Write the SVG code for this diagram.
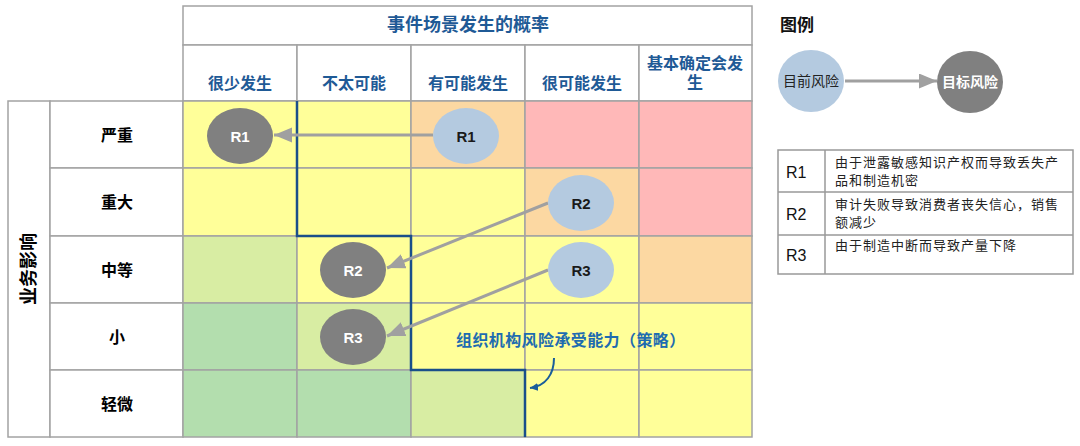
<svg xmlns="http://www.w3.org/2000/svg" width="1080" height="446" viewBox="0 0 1080 446">
<style>
text{font-family:"Liberation Sans","Noto Sans CJK SC",sans-serif;}
.g{stroke:#A3A3A3;stroke-width:1.5;}
.w{fill:#FFFFFF;}
.y{fill:#FFFF99;}
.o{fill:#FCD8A2;}
.p{fill:#FFB8B8;}
.lg{fill:#D8EDA3;}
.dg{fill:#B3DEAE;}
.hd{fill:#1F5A96;font-weight:bold;font-size:16px;text-anchor:middle;dominant-baseline:central;}
.ttl{fill:#1F5A96;font-weight:bold;font-size:18px;text-anchor:middle;dominant-baseline:central;}
.rl{fill:#000;font-weight:bold;font-size:16px;text-anchor:middle;dominant-baseline:central;}
.cur{fill:#B4CAE0;}
.tgt{fill:#808080;}
.ct{fill:#1A1A1A;font-weight:bold;font-size:15px;text-anchor:middle;dominant-baseline:central;}
.tt{fill:#FFFFFF;font-weight:bold;font-size:15px;text-anchor:middle;dominant-baseline:central;}
.conn{stroke:#A0A0A0;stroke-width:3;fill:none;marker-end:url(#ah);}
.desc{fill:#222;font-size:13px;letter-spacing:1px;}
.rk{fill:#111;font-size:16px;dominant-baseline:central;}
</style>
<defs>
<marker id="ah" markerUnits="userSpaceOnUse" markerWidth="18" markerHeight="16" refX="18" refY="7.5" orient="auto">
<path d="M0,0 L18,7.5 L0,15 z" fill="#A0A0A0"/>
</marker>
<marker id="bh" markerUnits="userSpaceOnUse" markerWidth="10" markerHeight="10" refX="8" refY="4" orient="auto">
<path d="M0,0 L8,4 L0,8 z" fill="#1A5E9A"/>
</marker>
</defs>
<rect width="1080" height="446" fill="#FFFFFF"/>

<g id="header">
<rect class="g w" x="183" y="6" width="569" height="39"/>
<text class="ttl" x="468" y="25">事件场景发生的概率</text>
<rect class="g w" x="183" y="45" width="114" height="56"/>
<rect class="g w" x="297" y="45" width="114" height="56"/>
<rect class="g w" x="411" y="45" width="114" height="56"/>
<rect class="g w" x="525" y="45" width="114" height="56"/>
<rect class="g w" x="639" y="45" width="113" height="56"/>
<text class="hd" x="240" y="83">很少发生</text>
<text class="hd" x="354" y="83">不太可能</text>
<text class="hd" x="468" y="83">有可能发生</text>
<text class="hd" x="582" y="83">很可能发生</text>
<text class="hd" x="695" y="63">基本确定会发</text>
<text class="hd" x="695" y="82">生</text>
</g>

<g id="row-labels">
<rect class="g w" x="8" y="101" width="42" height="336"/>
<text class="rl" transform="translate(29,269) rotate(-90)" style="font-size:18px" x="0" y="0">业务影响</text>
<rect class="g w" x="50" y="101" width="133" height="67"/>
<rect class="g w" x="50" y="168" width="133" height="68"/>
<rect class="g w" x="50" y="236" width="133" height="67"/>
<rect class="g w" x="50" y="303" width="133" height="67"/>
<rect class="g w" x="50" y="370" width="133" height="67"/>
<text class="rl" x="117" y="135">严重</text>
<text class="rl" x="117" y="202">重大</text>
<text class="rl" x="117" y="270">中等</text>
<text class="rl" x="117" y="337">小</text>
<text class="rl" x="117" y="404">轻微</text>
</g>

<g id="grid">
<rect class="g y" x="183" y="101" width="114" height="67"/>
<rect class="g y" x="297" y="101" width="114" height="67"/>
<rect class="g o" x="411" y="101" width="114" height="67"/>
<rect class="g p" x="525" y="101" width="114" height="67"/>
<rect class="g p" x="639" y="101" width="113" height="67"/>

<rect class="g y" x="183" y="168" width="114" height="68"/>
<rect class="g y" x="297" y="168" width="114" height="68"/>
<rect class="g y" x="411" y="168" width="114" height="68"/>
<rect class="g o" x="525" y="168" width="114" height="68"/>
<rect class="g p" x="639" y="168" width="113" height="68"/>

<rect class="g lg" x="183" y="236" width="114" height="67"/>
<rect class="g y" x="297" y="236" width="114" height="67"/>
<rect class="g y" x="411" y="236" width="114" height="67"/>
<rect class="g y" x="525" y="236" width="114" height="67"/>
<rect class="g o" x="639" y="236" width="113" height="67"/>

<rect class="g dg" x="183" y="303" width="114" height="67"/>
<rect class="g lg" x="297" y="303" width="114" height="67"/>
<rect class="g y" x="411" y="303" width="114" height="67"/>
<rect class="g y" x="525" y="303" width="114" height="67"/>
<rect class="g y" x="639" y="303" width="113" height="67"/>

<rect class="g dg" x="183" y="370" width="114" height="67"/>
<rect class="g dg" x="297" y="370" width="114" height="67"/>
<rect class="g lg" x="411" y="370" width="114" height="67"/>
<rect class="g y" x="525" y="370" width="114" height="67"/>
<rect class="g y" x="639" y="370" width="113" height="67"/>
</g>

<g id="appetite-line">
<path d="M297,101 V236 H411 V370 H525 V437" fill="none" stroke="#1A4F8A" stroke-width="2.5"/>
<text x="456" y="340" style="fill:#1E6CB0;font-weight:bold;font-size:16px;dominant-baseline:central;letter-spacing:0.4px">组织机构风险承受能力（策略）</text>
<path d="M554,358 C554,374 546,386 530,388" fill="none" stroke="#1A5E9A" stroke-width="2" marker-end="url(#bh)"/>
</g>

<g id="connectors">
<line class="conn" x1="433" y1="135" x2="274" y2="135"/>
<line class="conn" x1="548" y1="203" x2="387" y2="268"/>
<line class="conn" x1="548" y1="270" x2="387" y2="336"/>
<line class="conn" x1="845" y1="81" x2="937" y2="81"/>
</g>

<g id="R1-current"><ellipse class="cur" cx="466" cy="136" rx="33" ry="28"/><text class="ct" x="466" y="136">R1</text></g>
<g id="R1-target"><ellipse class="tgt" cx="240" cy="136" rx="33" ry="28"/><text class="tt" x="240" y="136">R1</text></g>
<g id="R2-current"><ellipse class="cur" cx="581" cy="203" rx="33" ry="28"/><text class="ct" x="581" y="203">R2</text></g>
<g id="R2-target"><ellipse class="tgt" cx="353" cy="270" rx="33" ry="28"/><text class="tt" x="353" y="270">R2</text></g>
<g id="R3-current"><ellipse class="cur" cx="581" cy="270" rx="33" ry="28"/><text class="ct" x="581" y="270">R3</text></g>
<g id="R3-target"><ellipse class="tgt" cx="353" cy="337" rx="33" ry="28"/><text class="tt" x="353" y="337">R3</text></g>

<g id="legend">
<text x="780" y="25" style="fill:#111;font-weight:bold;font-size:17px;dominant-baseline:central">图例</text>
<g id="legend-current"><ellipse class="cur" cx="811" cy="81" rx="33" ry="31"/><text x="811" y="81" style="fill:#222;font-size:14px;text-anchor:middle;dominant-baseline:central">目前风险</text></g>
<g id="legend-target"><ellipse class="tgt" cx="970" cy="82" rx="33" ry="31"/><text x="970" y="82" style="fill:#fff;font-weight:bold;font-size:14px;text-anchor:middle;dominant-baseline:central">目标风险</text></g>
</g>

<g id="legend-table">
<rect x="778" y="150" width="295" height="124" fill="#fff" stroke="#999" stroke-width="1.5"/>
<line x1="825" y1="150" x2="825" y2="274" stroke="#999" stroke-width="1.5"/>
<line x1="778" y1="192" x2="1073" y2="192" stroke="#999" stroke-width="1.5"/>
<line x1="778" y1="235" x2="1073" y2="235" stroke="#999" stroke-width="1.5"/>
<text class="rk" x="786" y="172">R1</text>
<text class="rk" x="786" y="214">R2</text>
<text class="rk" x="786" y="255">R3</text>
<text class="desc" x="835" y="167">由于泄露敏感知识产权而导致丢失产</text>
<text class="desc" x="835" y="185">品和制造机密</text>
<text class="desc" x="835" y="209">审计失败导致消费者丧失信心，销售</text>
<text class="desc" x="835" y="227">额减少</text>
<text class="desc" x="835" y="250">由于制造中断而导致产量下降</text>
</g>
</svg>
